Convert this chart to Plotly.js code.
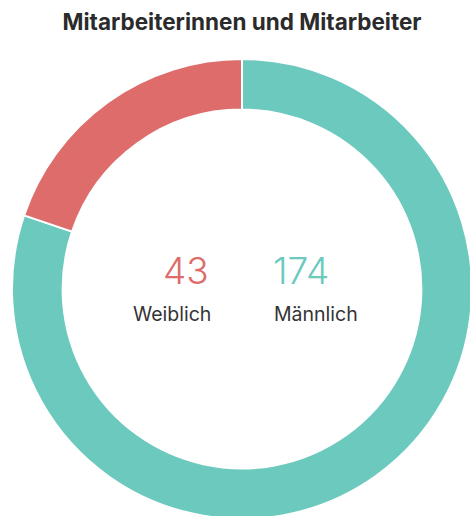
<!DOCTYPE html>
<html><head><meta charset="utf-8">
<script src="https://cdn.plot.ly/plotly-3.0.1.min.js"></script>
<style>html,body{margin:0;padding:0;overflow:hidden;background:#fff;width:470px;height:516px}#c{width:484px;height:530px}</style>
</head><body><div id="c"></div>
<script>
const labels = ["Weiblich", "Männlich"];
const values = [43, 174];
const colors = ["#de6c6b", "#6cc9be"];
const titleText = "Mitarbeiterinnen und Mitarbeiter";

const W = 484, H = 530, ml = 12, mr = 12, mt = 59, mb = 11;
const pw = W - ml - mr, ph = H - mt - mb;
const px = x => (x - ml) / pw;
const py = y => 1 - (y - mt) / ph;

const data = [{
  type: "pie", labels: labels.slice().reverse(), values: values.slice().reverse(), hole: 0.78, sort: false,
  direction: "clockwise", rotation: 0,
  marker: {colors: colors.slice().reverse(), line: {color: "#ffffff", width: 2}},
  textinfo: "none", hoverinfo: "label+value", showlegend: false
}];
const numFont = {family: "Inter, Lato, sans-serif", size: 37, weight: 300};
const labFont = {family: "Inter, Lato, sans-serif", size: 19.5, color: "#333333"};
const layout = {
  width: W, height: H,
  margin: {l: ml, r: mr, t: mt, b: mb},
  paper_bgcolor: "#ffffff",
  title: {text: "<b>" + titleText + "</b>", x: 0.5, xref: "paper", y: 1 - 22 / H, yref: "container", yanchor: "middle",
    font: {family: "Inter, sans-serif", size: 22.5, color: "#2b2b2b"}},
  annotations: [
    {text: String(values[0]), x: px(211), y: py(270), xref: "paper", yref: "paper", xanchor: "right", yanchor: "middle", showarrow: false, font: Object.assign({}, numFont, {color: colors[0]})},
    {text: labels[0], x: px(213), y: py(314), xref: "paper", yref: "paper", xanchor: "right", yanchor: "middle", showarrow: false, font: labFont},
    {text: String(values[1]), x: px(271), y: py(270), xref: "paper", yref: "paper", xanchor: "left", yanchor: "middle", showarrow: false, font: Object.assign({}, numFont, {color: colors[1]})},
    {text: labels[1], x: px(272), y: py(314), xref: "paper", yref: "paper", xanchor: "left", yanchor: "middle", showarrow: false, font: labFont}
  ]
};
Plotly.newPlot("c", data, layout, {displayModeBar: false, staticPlot: true});
</script></body></html>
